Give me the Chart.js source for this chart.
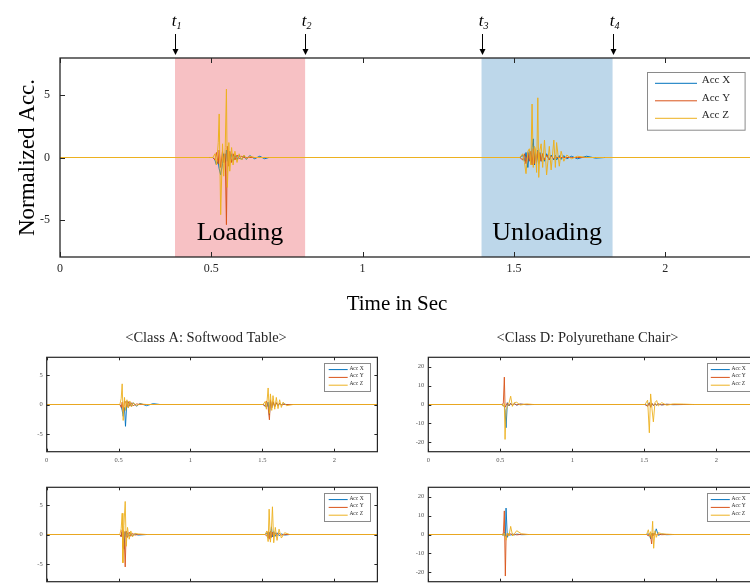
<!DOCTYPE html>
<html lang="en">
<head>
<meta charset="UTF-8">
<title>Normalized acceleration – loading / unloading</title>
<script src="https://cdn.jsdelivr.net/npm/chart.js@4.4.1/dist/chart.umd.min.js"></script>
<style>
  html, body { margin: 0; padding: 0; background: #fff; }
  #page { position: relative; width: 750px; height: 585px; overflow: hidden; background: #fff; }
  #page canvas { position: absolute; }
</style>
</head>
<body>
<div id="page">
  <canvas id="mainChart"    width="770" height="320" style="left:0;top:0"></canvas>
  <canvas id="softTopChart" width="390" height="150" style="left:0;top:320px"></canvas>
  <canvas id="polyTopChart" width="395" height="150" style="left:380px;top:320px"></canvas>
  <canvas id="softBotChart" width="390" height="130" style="left:0;top:470px"></canvas>
  <canvas id="polyBotChart" width="395" height="130" style="left:380px;top:470px"></canvas>
</div>
<script>
// 1) Labels, ticks, phases
const seriesLabels = ['Acc X', 'Acc Y', 'Acc Z'];
const seriesColors = ['#0072BD', '#D95319', '#EDB120'];
const xTickValues  = [0, 0.5, 1, 1.5, 2];
const mainYTicks   = [-5, 0, 5];
const softYTicks   = [-5, 0, 5];
const polyYTicks   = [-20, -10, 0, 10, 20];
const phaseEdges   = [0.380, 0.810, 1.393, 1.826];   // t1, t2, t3, t4
const phaseNames   = ['Loading', 'Unloading'];
const phaseColors  = ['#F7C1C4', '#BDD7EA'];
const classTitles  = ['<Class A: Softwood Table>', '<Class D: Polyurethane Chair>'];

// 2) Main panel (time in s, normalized acc.)
const mainTime = [0, 0.495,
  0.505, 0.512, 0.517, 0.523, 0.526, 0.531, 0.537, 0.541, 0.546, 0.550, 0.553, 0.558, 0.561,
  0.567, 0.572, 0.578, 0.585, 0.592, 0.600, 0.608, 0.616, 0.627, 0.643, 0.660, 0.676, 0.690,
  1.520, 1.529, 1.535, 1.540, 1.546, 1.551, 1.556, 1.560, 1.564, 1.568, 1.571, 1.575, 1.579,
  1.582, 1.586, 1.590, 1.595, 1.601, 1.608, 1.617, 1.623, 1.632, 1.637, 1.641, 1.650, 1.656,
  1.665, 1.675, 1.690, 1.710, 1.740, 1.770, 1.800, 2.3];
const mainAccX = [0, 0,
  0, -0.2, -0.6, -0.3, -0.9, -1.4, -0.5, 0.3, -0.4, 0.6, -0.3, 0.4, -0.3,
  0.3, -0.3, 0.2, -0.2, 0.2, -0.2, 0.15, -0.15, 0.15, -0.1, 0.1, -0.1, 0,
  0, 0.2, -0.3, 0.4, -0.8, 0.6, -0.5, 0.8, 1.5, -0.6, 0.5, -0.4, 0.6,
  -0.5, 0.4, -0.3, 0.3, -0.3, 0.3, -0.2, 0.2, -0.2, 0.2, -0.2, 0.15, -0.15,
  0.15, -0.1, 0.1, -0.1, 0.1, -0.05, 0, 0];
const mainAccY = [0, 0,
  0, -0.2, 0.4, -0.5, 0.6, -0.8, 0.5, -0.4, 0.3, -5.4, 0.9, -0.7, 0.5,
  -0.4, 0.3, -0.2, 0.2, -0.1, 0.1, 0, 0, 0, 0, 0, 0, 0,
  0, -0.2, 0.3, -0.5, 0.4, -0.3, 0.5, -0.6, 0.7, -0.5, 0.4, -0.3, 0.5,
  -0.4, 0.3, -0.3, 0.3, -0.2, 0.2, -0.2, 0.1, -0.1, 0.1, 0, 0, 0,
  0, 0, 0, 0, 0, 0, 0, 0];
const mainAccZ = [0, 0,
  0, 0.3, -0.6, 1.2, 3.5, -4.6, 1.1, -1.5, 0.8, 5.5, -2.4, 1.2, -1.1,
  0.8, -0.6, 0.5, -0.4, 0.3, -0.2, 0.2, -0.1, 0.1, 0, 0, 0, 0,
  0, 0.3, -0.4, -1.3, 0.5, 0.7, -0.6, 4.3, -0.8, 0.9, 0.7, -1.2, 4.8,
  -1.6, 0.6, 1.1, -0.8, 1.4, -1.4, 0.9, -1.0, 1.4, -0.8, 1.2, -0.7, 0.5,
  -0.3, 0.2, -0.1, 0.1, 0, 0, 0, 0];

// 3) Class A, upper small panel
const softTopTime = [0,
  0.509, 0.518, 0.525, 0.532, 0.541, 0.548, 0.558, 0.567, 0.578, 0.590, 0.601, 0.625, 0.648, 0.694, 0.741, 0.787,
  1.505, 1.519, 1.528, 1.540, 1.549, 1.556, 1.565, 1.574, 1.586, 1.597, 1.609, 1.620, 1.632, 1.644, 1.667, 1.713,
  2.3];
const softTopX = [0,
  0, -0.3, -1.0, -2.0, -0.5, -3.7, 0.6, -0.5, 0.4, -0.3, 0.3, -0.3, 0.2, -0.2, 0.15, 0,
  0, -0.2, -0.5, 0.4, -1.8, 0.6, -0.5, 0.4, -0.3, 0.3, -0.2, 0.2, -0.1, 0.1, 0, 0,
  0];
const softTopY = [0,
  0, -0.5, 0.4, -1.2, 0.6, 0.5, -0.4, 0.5, -0.3, 0.3, -0.2, 0.1, 0, 0, 0, 0,
  0, -0.3, 0.6, -0.5, -2.6, 0.8, -0.6, 0.5, -0.4, 0.3, -0.2, 0.2, -0.1, 0, 0, 0,
  0];
const softTopZ = [0,
  0, 1.0, 3.5, -2.7, 1.2, -1.0, 0.8, -0.6, 0.6, -0.4, 0.3, -0.2, 0.1, 0, 0, 0,
  0, 0.5, -0.8, 2.8, -1.5, 1.8, -1.0, 1.5, -0.8, 1.2, -0.7, 0.8, -0.5, 0.4, -0.2, 0,
  0];

// 4) Class D, upper small panel
const polyTopTime = [0,
  0.510, 0.521, 0.528, 0.533, 0.540, 0.549, 0.560, 0.572, 0.584, 0.597, 0.614, 0.637, 0.683, 0.729,
  1.505, 1.523, 1.535, 1.544, 1.553, 1.563, 1.574, 1.586, 1.597, 1.621, 1.655, 1.701, 1.771, 1.840,
  2.3];
const polyTopX = [0,
  0, -0.5, -1.0, -3.0, -12.3, 1.0, -0.8, 0.6, -0.5, 0.4, -0.3, 0.2, -0.1, 0,
  0, -0.6, 1.0, -1.2, 0.5, -0.5, 0.3, -0.3, 0.2, -0.2, 0.1, -0.1, 0, 0,
  0];
const polyTopY = [0,
  0, 0.5, 14.5, -1.5, -0.5, 0.8, -0.6, 0.5, -0.4, 0.3, -0.2, 0.2, 0, 0,
  0, -1.0, 0.8, -1.5, 0.6, -0.5, 0.4, -0.3, 0.3, -0.2, 0.1, 0, 0, 0,
  0];
const polyTopZ = [0,
  0, -1.0, 0.5, -18.5, -3.0, -1.2, 0.6, 4.4, -1.0, 1.0, 1.2, -0.3, 0.3, 0,
  0, 2.3, -15.0, 5.6, -2.0, -9.2, 1.0, 2.1, -0.8, 1.0, -0.4, 0.3, 0.2, 0,
  0];

// 5) Class A, lower small panel
const softBotTime = [0,
  0.509, 0.518, 0.525, 0.530, 0.537, 0.546, 0.553, 0.562, 0.574, 0.585, 0.597, 0.613, 0.636, 0.694,
  1.519, 1.531, 1.540, 1.547, 1.556, 1.563, 1.570, 1.579, 1.590, 1.602, 1.616, 1.632, 1.655, 1.690,
  2.3];
const softBotX = [0,
  0, -0.3, 0.4, -0.6, -2.5, 0.5, -0.4, 0.3, -0.3, 0.2, -0.2, 0.1, -0.1, 0,
  0, 0.3, -0.6, 0.4, -0.5, 1.3, -0.4, 0.5, -0.3, 0.3, -0.2, 0.1, -0.1, 0,
  0];
const softBotY = [0,
  0, -0.4, 0.8, -2.2, 0.5, -5.5, 0.6, -0.5, 0.4, -0.3, 0.2, -0.1, 0, 0,
  0, -0.3, 0.5, -0.8, 0.6, -0.5, 0.4, -0.4, 0.3, -0.2, 0.2, -0.1, 0, 0,
  0];
const softBotZ = [0,
  0, 1.0, 3.6, -4.8, 1.5, 5.6, -2.0, 1.2, -0.8, 0.6, -0.4, 0.2, 0.1, 0,
  0, 0.6, -1.2, 4.3, -1.3, 0.8, 4.7, -1.4, 1.2, -1.0, 0.9, -0.6, 0.3, 0,
  0];

// 6) Class D, lower small panel
const polyBotTime = [0,
  0.512, 0.521, 0.528, 0.535, 0.540, 0.549, 0.560, 0.572, 0.586, 0.600, 0.614, 0.648, 0.694,
  1.516, 1.528, 1.537, 1.544, 1.551, 1.558, 1.565, 1.574, 1.583, 1.597, 1.621, 1.655, 1.701,
  2.3];
const polyBotX = [0,
  0, -0.4, 1.0, -1.0, 14.0, -1.5, 0.6, -0.4, 0.3, -0.2, 0.2, -0.1, 0,
  0, 0.4, -0.6, -2.3, 0.5, -0.5, 0.6, 0.4, 3.0, -0.4, 0.2, -0.1, 0,
  0];
const polyBotY = [0,
  0, 0.5, 12.5, -22.0, -2.0, 0.6, -0.5, 0.4, -0.3, 0.2, -0.2, 0.1, 0,
  0, -0.8, 0.5, -1.0, -5.0, 0.8, -0.6, 0.5, -0.3, 0.2, -0.1, 0, 0,
  0];
const polyBotZ = [0,
  0, -0.6, 0.8, -1.5, -3.0, 0.8, -0.8, 4.3, -0.8, 0.6, 2.0, 0.3, 0,
  0, 2.5, -1.0, 1.5, -2.0, 7.0, -7.3, 2.0, -1.5, 1.0, 0.4, 0.2, 0,
  0];

const SERIF = "'Liberation Serif', 'Times New Roman', serif";
const INK   = '#262626';
Chart.defaults.font.family = SERIF;
Chart.defaults.color = INK;

// 7) Box frame, inward ticks, MATLAB-style legend, shaded phases, arrows
const decorPlugin = {
  id: 'decor',
  beforeDatasetsDraw(chart, args, o) {
    const { ctx, chartArea: a, scales: { x } } = chart;
    (o.bands || []).forEach(b => {
      const x0 = x.getPixelForValue(b.from), x1 = x.getPixelForValue(b.to);
      ctx.save();
      ctx.fillStyle = b.color;
      ctx.fillRect(x0, a.top, x1 - x0, a.bottom - a.top);
      ctx.restore();
    });
  },
  afterDatasetsDraw(chart, args, o) {
    const { ctx, chartArea: a, scales: { x, y } } = chart;
    ctx.save();

    // phase captions
    (o.bands || []).forEach(b => {
      const cx = (x.getPixelForValue(b.from) + x.getPixelForValue(b.to)) / 2;
      ctx.font = `${o.captionSize}px ${SERIF}`;
      ctx.fillStyle = '#000';
      ctx.textAlign = 'center';
      ctx.textBaseline = 'alphabetic';
      ctx.fillText(b.caption, cx, a.bottom - o.captionLift);
    });

    // frame
    ctx.strokeStyle = INK;
    ctx.lineWidth = o.frameWidth;
    ctx.strokeRect(a.left, a.top, a.right - a.left, a.bottom - a.top);

    // inward ticks on all four sides
    const t = o.tickLen;
    ctx.beginPath();
    x.ticks.forEach(tk => {
      const px = Math.round(x.getPixelForValue(tk.value)) + 0.5;
      ctx.moveTo(px, a.bottom); ctx.lineTo(px, a.bottom - t);
      ctx.moveTo(px, a.top);    ctx.lineTo(px, a.top + t);
    });
    y.ticks.forEach(tk => {
      const py = Math.round(y.getPixelForValue(tk.value)) + 0.5;
      ctx.moveTo(a.left, py);  ctx.lineTo(a.left + t, py);
      ctx.moveTo(a.right, py); ctx.lineTo(a.right - t, py);
    });
    ctx.lineWidth = 1;
    ctx.stroke();

    // legend box
    if (o.legend) {
      const L = o.legend;
      const bx = a.right - L.inset[0] - L.w, by = a.top + L.inset[1];
      ctx.fillStyle = '#fff';
      ctx.fillRect(bx, by, L.w, L.h);
      ctx.strokeStyle = '#8a8a8a';
      ctx.lineWidth = 1;
      ctx.strokeRect(Math.round(bx) + 0.5, Math.round(by) + 0.5, L.w, L.h);
      chart.data.datasets.forEach((ds, i) => {
        const ly = by + L.first + i * L.row;
        ctx.strokeStyle = ds.borderColor;
        ctx.lineWidth = L.lineWidth;
        ctx.beginPath();
        ctx.moveTo(bx + L.lineFrom, ly);
        ctx.lineTo(bx + L.lineFrom + L.lineLen, ly);
        ctx.stroke();
        ctx.fillStyle = INK;
        ctx.font = `${L.size}px ${SERIF}`;
        ctx.textAlign = 'left';
        ctx.textBaseline = 'alphabetic';
        ctx.fillText(ds.label, bx + L.textFrom, ly + L.textDrop);
      });
    }

    // t1..t4 arrows above the frame
    (o.markers || []).forEach((m, i) => {
      const px = Math.round(x.getPixelForValue(m)) + 0.5;
      ctx.strokeStyle = '#000';
      ctx.fillStyle = '#000';
      ctx.lineWidth = 1;
      ctx.beginPath();
      ctx.moveTo(px, a.top - 24); ctx.lineTo(px, a.top - 8);
      ctx.stroke();
      ctx.beginPath();
      ctx.moveTo(px - 3, a.top - 9); ctx.lineTo(px + 3, a.top - 9); ctx.lineTo(px, a.top - 3);
      ctx.closePath();
      ctx.fill();
      ctx.textBaseline = 'alphabetic';
      ctx.font = `italic 17px ${SERIF}`;
      ctx.textAlign = 'right';
      ctx.fillText('t', px + 1, a.top - 32);
      ctx.font = `italic 10px ${SERIF}`;
      ctx.textAlign = 'left';
      ctx.fillText(String(i + 1), px + 1, a.top - 29);
    });

    // headings / axis caption placed as in the figure
    (o.headings || []).forEach(h => {
      ctx.fillStyle = h.color || INK;
      ctx.font = `${h.size}px ${SERIF}`;
      ctx.textAlign = 'center';
      ctx.textBaseline = 'alphabetic';
      ctx.fillText(h.text, h.cx, h.cy);
    });
    ctx.restore();
  }
};

function toPoints(time, values) {
  return time.map((t, i) => ({ x: t, y: values[i] }));
}

function makeChart(id, o) {
  const datasets = [o.accX, o.accY, o.accZ].map((vals, i) => ({
    label: seriesLabels[i],
    data: toPoints(o.time, vals),
    borderColor: seriesColors[i],
    borderWidth: o.lineWidth,
    pointRadius: 0,
    tension: 0,
    order: 2 - i            // Acc Z on top
  }));

  return new Chart(document.getElementById(id), {
    type: 'line',
    data: { datasets },
    plugins: [decorPlugin],
    options: {
      responsive: false,
      animation: false,
      devicePixelRatio: 1,
      layout: { padding: o.pad },
      plugins: {
        legend: { display: false },
        tooltip: { enabled: false },
        decor: o.decor
      },
      scales: {
        x: {
          type: 'linear', min: 0, max: 2.3,
          afterBuildTicks: s => { s.ticks = xTickValues.map(v => ({ value: v })); },
          afterFit: s => { s.height = o.xh; },
          grid: { display: false, drawTicks: false },
          border: { display: false },
          ticks: { font: { size: o.tickSize }, color: o.tickColor, padding: o.xPad,
                   maxRotation: 0, autoSkip: false, callback: v => String(v) },
          title: { display: false }
        },
        y: {
          type: 'linear', min: o.ymin, max: o.ymax,
          afterBuildTicks: s => { s.ticks = o.yTicks.map(v => ({ value: v })); },
          afterFit: s => { s.width = o.yw; },
          grid: { display: false, drawTicks: false },
          border: { display: false },
          ticks: { font: { size: o.tickSize }, color: o.tickColor, padding: o.yPad,
                   autoSkip: false, callback: v => String(v) },
          title: o.yTitle || { display: false }
        }
      }
    }
  });
}

const bigLegend   = { w: 97.6, h: 57.7, inset: [11.7, 14.3], first: 11, row: 17.5,
                      lineFrom: 8.3, lineLen: 42, textFrom: 55, size: 11, textDrop: 0, lineWidth: 1 };
const smallLegend = { w: 46, h: 28, inset: [7, 6], first: 6.3, row: 7.8,
                      lineFrom: 4.3, lineLen: 19, textFrom: 25, size: 5.5, textDrop: 0, lineWidth: 1 };

// 8) Main panel
makeChart('mainChart', {
  time: mainTime, accX: mainAccX, accY: mainAccY, accZ: mainAccZ,
  lineWidth: 1,
  pad: { top: 58, right: 14, left: 0, bottom: 0 },
  yw: 60, xh: 63, ymin: -8, ymax: 8, yTicks: mainYTicks,
  tickSize: 12, tickColor: INK, xPad: 5, yPad: 10,
  yTitle: { display: true, text: 'Normalized Acc.', color: '#000', font: { size: 23 }, padding: { top: 14, bottom: 0 } },
  decor: {
    frameWidth: 1.3, tickLen: 5, captionSize: 26, captionLift: 17,
    bands: [
      { from: phaseEdges[0], to: phaseEdges[1], color: phaseColors[0], caption: phaseNames[0] },
      { from: phaseEdges[2], to: phaseEdges[3], color: phaseColors[1], caption: phaseNames[1] }
    ],
    markers: phaseEdges,
    legend: bigLegend,
    headings: [{ text: 'Time in Sec', cx: 397, cy: 310, size: 21, color: '#000' }]
  }
});

// 9) Small panels
const smallBase = {
  lineWidth: 0.9, yw: 46.7, xh: 18.3, tickSize: 6.5, tickColor: '#555', xPad: 5, yPad: 4
};

makeChart('softTopChart', Object.assign({}, smallBase, {
  time: softTopTime, accX: softTopX, accY: softTopY, accZ: softTopZ,
  pad: { top: 37.3, right: 12.6, left: 0, bottom: 0 },
  ymin: -8, ymax: 8, yTicks: softYTicks,
  decor: { frameWidth: 1.2, tickLen: 3, legend: smallLegend,
           headings: [{ text: classTitles[0], cx: 206, cy: 22, size: 14.5 }] }
}));

makeChart('polyTopChart', Object.assign({}, smallBase, {
  time: polyTopTime, accX: polyTopX, accY: polyTopY, accZ: polyTopZ,
  yw: 48.3,
  pad: { top: 37.3, right: 15.5, left: 0, bottom: 0 },
  ymin: -25, ymax: 25, yTicks: polyYTicks,
  decor: { frameWidth: 1.2, tickLen: 3, legend: smallLegend,
           headings: [{ text: classTitles[1], cx: 207.5, cy: 22, size: 14.5 }] }
}));

makeChart('softBotChart', Object.assign({}, smallBase, {
  time: softBotTime, accX: softBotX, accY: softBotY, accZ: softBotZ,
  pad: { top: 17.3, right: 12.6, left: 0, bottom: 0 },
  ymin: -8, ymax: 8, yTicks: softYTicks,
  decor: { frameWidth: 1.2, tickLen: 3, legend: smallLegend }
}));

makeChart('polyBotChart', Object.assign({}, smallBase, {
  time: polyBotTime, accX: polyBotX, accY: polyBotY, accZ: polyBotZ,
  yw: 48.3,
  pad: { top: 17.3, right: 15.5, left: 0, bottom: 0 },
  ymin: -25, ymax: 25, yTicks: polyYTicks,
  decor: { frameWidth: 1.2, tickLen: 3, legend: smallLegend }
}));
</script>
</body>
</html>
